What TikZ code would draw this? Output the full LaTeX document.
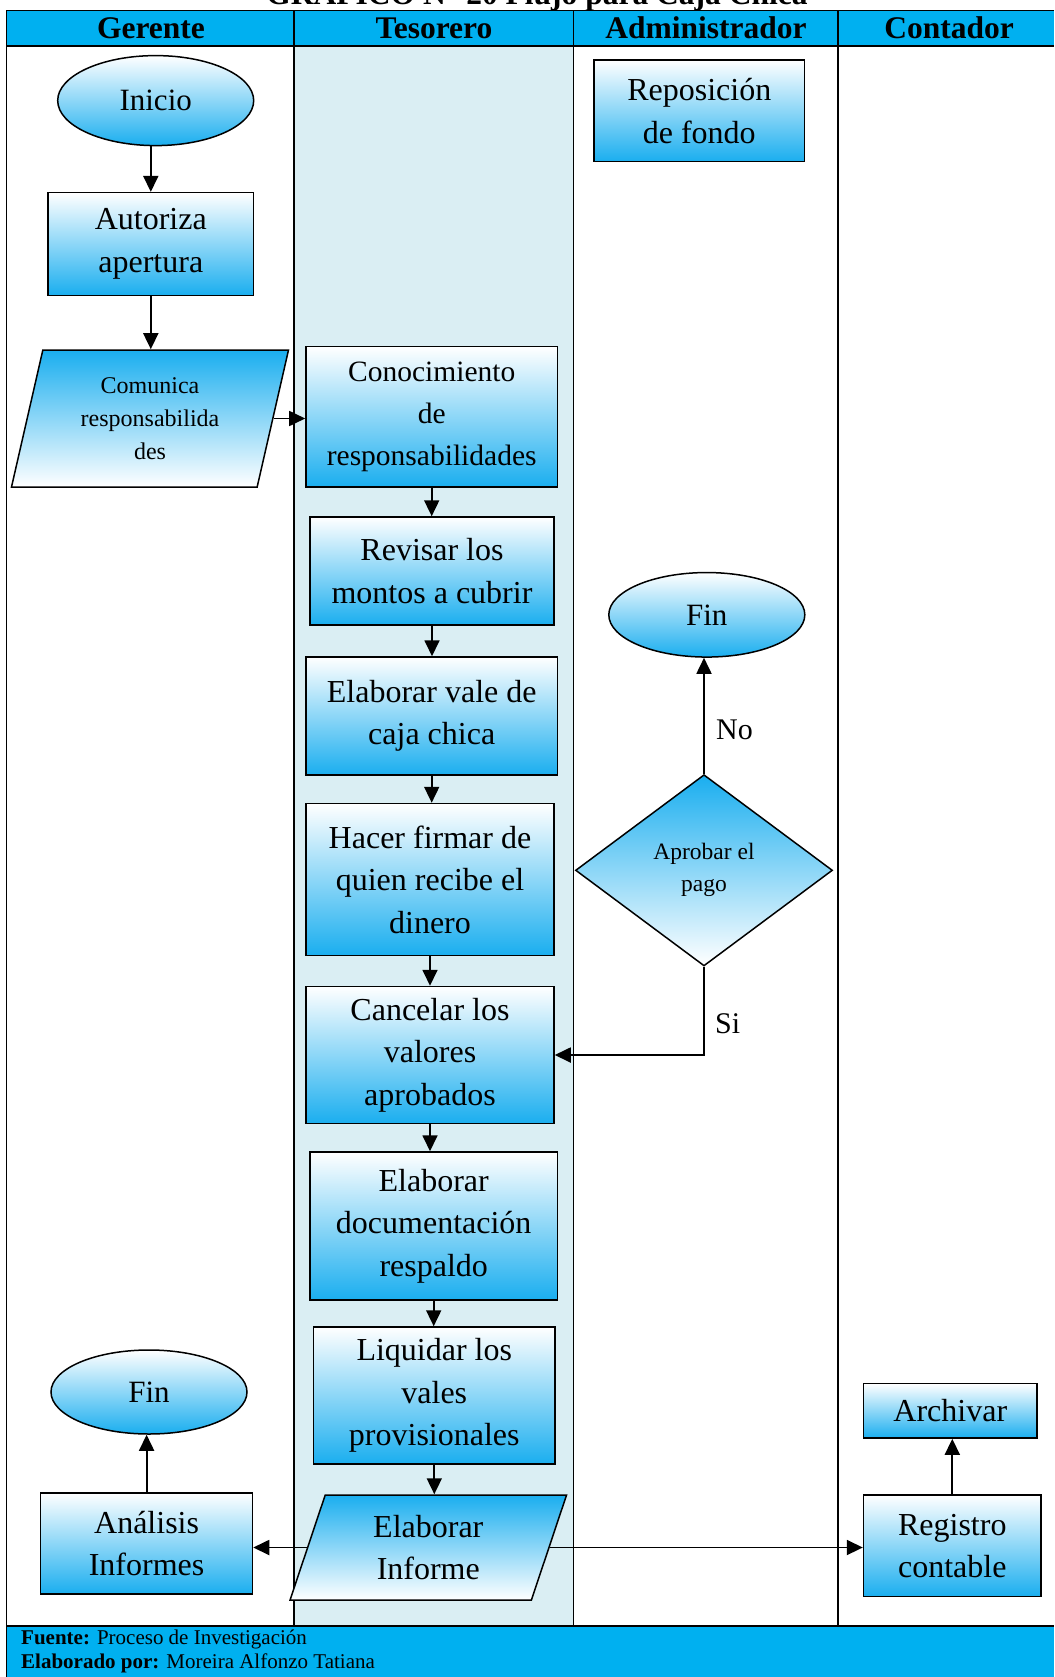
\documentclass[tikz,border=0pt]{standalone}
\usepackage{fontspec}
\setmainfont{Liberation Serif}
\usetikzlibrary{arrows.meta,shapes.geometric}
\definecolor{CCHead}{HTML}{00B0F0}
\definecolor{CCBox}{HTML}{1AAEEF}
\definecolor{CCLane}{HTML}{DAEEF3}
\newcommand{\fsz}[2]{\fontsize{#1}{#2}\selectfont}

\begin{document}
\begin{tikzpicture}[
    x=1pt,y=-1pt,
    proc/.style={rectangle,draw=black,line width=1.5pt,top color=white,bottom color=CCBox,
      align=center,inner sep=2pt,font=\fsz{32}{42.5}},
    term/.style={ellipse,draw=black,line width=1.5pt,top color=white,bottom color=CCBox,
      inner sep=0pt,minimum width=196pt,font=\fsz{31}{36}},
    io/.style={trapezium,trapezium stretches body,draw=black,line width=1.5pt,
      top color=CCBox,bottom color=white,align=center,inner sep=2pt},
    decision/.style={diamond,draw=black,line width=1.5pt,top color=CCBox,bottom color=white,
      align=center,inner sep=0pt,font=\fsz{23.5}{32}},
    arrow/.style={-{Triangle[length=16pt,width=15pt]},line width=1.8pt},
    lane/.style={line width=1.2pt},
    head/.style={font=\bfseries\fsz{31.5}{36},inner sep=0pt},
    lbl/.style={font=\fsz{30}{36},anchor=west,inner sep=0pt}
  ]
  \useasboundingbox (0,0) rectangle (1054,1677);
  % carriles y encabezado
  \fill[CCLane] (294,46) rectangle (573.5,1626);
  \fill[CCHead] (6.4,10.7) rectangle (1054,46);
  \fill[CCHead] (6.4,1626) rectangle (1054,1677);
  \draw[lane] (6.4,10.7) -- (1054,10.7);
  \draw[lane] (6.4,46) -- (1054,46);
  \draw[lane] (6.4,1626) -- (1054,1626);
  \draw[lane] (6.4,10.7) -- (6.4,1677);
  \foreach \x in {294,573.5,838}
    \draw[lane] (\x,10.7) -- (\x,1626);
  \node[head,anchor=base] (titulo) at (537,5) {GRÁFICO N° 20 Flujo para Caja Chica};
  \node[head] (hgerente) at (151,28) {Gerente};
  \node[head] (htesorero) at (434,28) {Tesorero};
  \node[head] (hadmin) at (706,28) {Administrador};
  \node[head] (hcontador) at (949,28) {Contador};
  \node[anchor=north west,align=left,inner sep=0pt,font=\fsz{21}{23.5}] (fuente) at (21,1630)
    {\textbf{Fuente:} Proceso de Investigación\\\textbf{Elaborado por:} Moreira Alfonzo Tatiana};
  % Gerente
  \node[term,minimum height=90pt] (inicio) at (155.7,100.6) {Inicio};
  \node[proc,minimum width=205.6pt,minimum height=102.7pt] (autoriza) at (150.8,244) {Autoriza\\apertura};
  \node[io,trapezium left angle=70,trapezium right angle=110,minimum width=277pt,minimum height=137pt,
    font=\fsz{24}{33}] (comunica) at (150,418.5) {Comunica\\responsabilida\\des};
  \node[term,minimum height=84pt] (fingerente) at (149,1392) {Fin};
  \node[proc,minimum width=211.8pt,minimum height=101.3pt] (analisis) at (146.6,1543.4) {Análisis\\Informes};
  % Tesorero
  \node[proc,minimum width=251.5pt,minimum height=140.3pt,font=\fsz{29.5}{41.7}] (conocimiento) at (431.7,416.8)
    {Conocimiento\\de\\responsabilidades};
  \node[proc,minimum width=244pt,minimum height=108pt] (revisar) at (432,571) {Revisar los\\montos a cubrir};
  \node[proc,minimum width=251.5pt,minimum height=118pt] (vale) at (431.7,716) {Elaborar vale de\\caja chica};
  \node[proc,minimum width=248pt,minimum height=152pt] (firmar) at (430,879.5) {Hacer firmar de\\quien recibe el\\dinero};
  \node[proc,minimum width=248pt,minimum height=137pt] (cancelar) at (430,1055) {Cancelar los\\valores\\aprobados};
  \node[proc,minimum width=247.5pt,minimum height=148pt] (documentacion) at (433.7,1226) {Elaborar\\documentación\\respaldo};
  \node[proc,minimum width=241.5pt,minimum height=137pt] (liquidar) at (434.3,1395.5) {Liquidar los\\vales\\provisionales};
  \node[io,trapezium left angle=63,trapezium right angle=117,minimum width=276.5pt,minimum height=105pt,
    font=\fsz{32}{42.5}] (informe) at (428.3,1547.5) {Elaborar\\Informe};
  % Administrador
  \node[proc,minimum width=210.6pt,minimum height=101.6pt] (reposicion) at (699.3,110.8) {Reposición\\de fondo};
  \node[term,minimum height=84.5pt] (finadmin) at (706.8,614.8) {Fin};
  \node[decision,minimum width=257pt,minimum height=191.3pt] (aprobar) at (704,870.3) {Aprobar el\\pago};
  % Contador
  \node[proc,minimum width=173.5pt,minimum height=54.5pt] (archivar) at (950.3,1410.8) {Archivar};
  \node[proc,minimum width=177.5pt,minimum height=101.5pt] (registro) at (952.3,1545.8) {Registro\\contable};
  % conectores
  \draw[arrow] (autoriza.north |- inicio.south) -- (autoriza.north);
  \draw[arrow] (autoriza.south) -- (autoriza.south |- comunica.north);
  \draw[arrow] (comunica.east) -- (comunica.east -| conocimiento.west);
  \draw[arrow] (conocimiento.south) -- (conocimiento.south |- revisar.north);
  \draw[arrow] (revisar.south) -- (revisar.south |- vale.north);
  \draw[arrow] (vale.south) -- (vale.south |- firmar.north);
  \draw[arrow] (firmar.south) -- (firmar.south |- cancelar.north);
  \draw[arrow] (cancelar.south) -- (cancelar.south |- documentacion.north);
  \draw[arrow] (documentacion.south) -- (documentacion.south |- liquidar.north);
  \draw[arrow] (liquidar.south) -- (liquidar.south |- informe.north);
  \draw[arrow] (informe.west) -- (informe.west -| analisis.east);
  \draw[arrow] (informe.east) -- (informe.east -| registro.west);
  \draw[arrow] (registro.north) -- (registro.north |- archivar.south);
  \draw[arrow] (analisis.north) -- (analisis.north |- fingerente.south);
  \draw[arrow] (aprobar.north) -- (aprobar.north |- finadmin.south);
  \draw[arrow] (aprobar.south) |- (cancelar.east);
  \node[lbl] (no) at (716,730) {No};
  \node[lbl] (si) at (715,1024) {Si};
\end{tikzpicture}
\end{document}
